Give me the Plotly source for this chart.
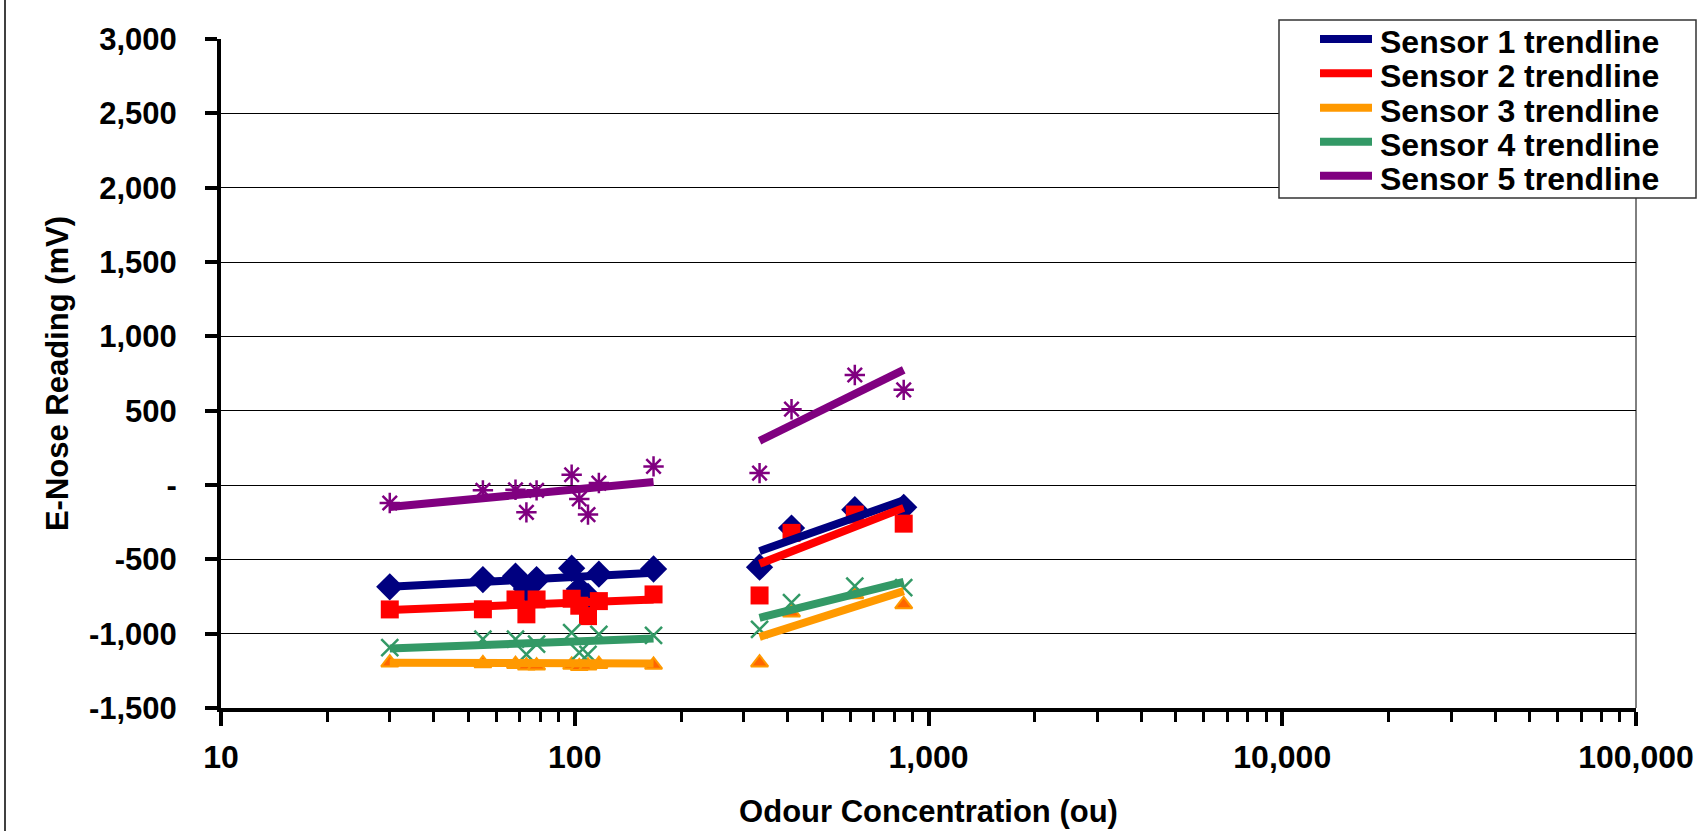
import plotly.graph_objects as go

# ---- data ----
odour = [30, 55, 68, 73, 78, 98, 103, 109, 117, 167, 333, 410, 619, 851]

sensor1 = [-685, -636, -613, -700, -636, -560, -700, -750, -600, -565, -553, -290, -166, -150]
sensor2 = [-837, -836, -770, -870, -770, -765, -812, -882, -781, -736, -743, -322, -199, -260]
sensor3 = [-1195, -1200, -1205, -1215, -1215, -1210, -1220, -1215, -1205, -1210, -1195, -859, -736, -803]
sensor4 = [-1094, -1037, -1037, -1139, -1071, -993, -1128, -1139, -1004, -1011, -971, -792, -680, -691]
sensor5 = [-121, -36, -32, -184, -36, 69, -94, -199, 13, 125, 80, 510, 740, 640]

# trendlines: two segments per sensor (low cluster, high cluster)
trend_x = [30, 167, None, 333, 851]
trend1 = [-685, -590, None, -445, -103]
trend2 = [-840, -770, None, -530, -154]
trend3 = [-1195, -1200, None, -1022, -714]
trend4 = [-1100, -1032, None, -893, -651]
trend5 = [-148, 20, None, 297, 774]

trend_names = ["Sensor 1 trendline", "Sensor 2 trendline", "Sensor 3 trendline",
               "Sensor 4 trendline", "Sensor 5 trendline"]

x_tickvals = [10, 100, 1000, 10000, 100000]
x_ticktext = ["10", "100", "1,000", "10,000", "100,000"]
y_tickvals = [3000, 2500, 2000, 1500, 1000, 500, 0, -500, -1000, -1500]
y_ticktext = ["3,000", "2,500", "2,000", "1,500", "1,000", "500", "-", "-500", "-1,000", "-1,500"]

# ---- styles / layout ----
FONT = "Liberation Sans, Arial, sans-serif"
colors = ["#000080", "#FF0000", "#FF9900", "#339966", "#800080"]
c1, c2, c3, c4, c5 = colors

W, H = 1707, 831
ML, MR, MT, MB = 221, 71, 39, 123
PW, PH = W - ML - MR, H - MT - MB


def xp(px):
    return (px - ML) / PW


def yp(py):
    return (H - MB - py) / PH


fig = go.Figure()

fig.add_trace(go.Scatter(x=odour, y=sensor1, mode="markers", showlegend=False, name="Sensor 1",
                         marker=dict(symbol="diamond", size=21, color=c1)))
fig.add_trace(go.Scatter(x=odour, y=sensor2, mode="markers", showlegend=False, name="Sensor 2",
                         marker=dict(symbol="square", size=18, color=c2)))
fig.add_trace(go.Scatter(x=odour, y=sensor3, mode="markers", showlegend=False, name="Sensor 3",
                         marker=dict(symbol="triangle-up", size=15, color="#FF6600",
                                     line=dict(color=c3, width=2))))
fig.add_trace(go.Scatter(x=odour, y=sensor4, mode="markers", showlegend=False, name="Sensor 4",
                         marker=dict(symbol="x-thin-open", size=17, color=c4,
                                     line=dict(color=c4, width=2.5))))
fig.add_trace(go.Scatter(x=odour, y=sensor5, mode="markers", showlegend=False, name="Sensor 5",
                         marker=dict(symbol="asterisk-open", size=17, color=c5,
                                     line=dict(color=c5, width=2.5))))

for name, ys, col in zip(trend_names, [trend1, trend2, trend3, trend4, trend5], colors):
    fig.add_trace(go.Scatter(x=trend_x, y=ys, mode="lines", name=name, connectgaps=False,
                             showlegend=False, line=dict(color=col, width=8)))

# manual legend box (to reproduce the tight row spacing of the original)
shapes = [
    dict(type="line", xref="paper", yref="paper", x0=1, x1=1, y0=0, y1=1,
         line=dict(color="black", width=1)),
    dict(type="line", xref="paper", yref="paper", x0=xp(5), x1=xp(5), y0=yp(H + 20), y1=yp(-20),
         line=dict(color="black", width=1.5)),
    dict(type="rect", xref="paper", yref="paper", x0=xp(1279), x1=xp(1696), y0=yp(198), y1=yp(20),
         fillcolor="white", line=dict(color="#333333", width=1.5), layer="above"),
]
annotations = []
row_y = [39, 73.3, 107.7, 141.7, 175.7]
for name, col, ry in zip(trend_names, colors, row_y):
    shapes.append(dict(type="line", xref="paper", yref="paper", x0=xp(1320), x1=xp(1372),
                       y0=yp(ry), y1=yp(ry), layer="above",
                       line=dict(color=col, width=8)))
    annotations.append(dict(xref="paper", yref="paper", x=xp(1378), y=yp(ry + 3),
                            xanchor="left", yanchor="middle", showarrow=False, text=name,
                            font=dict(family=FONT, size=32, color="black", weight="bold")))

fig.update_layout(
    width=W, height=H,
    margin=dict(l=ML, r=MR, t=MT, b=MB, autoexpand=False),
    paper_bgcolor="white", plot_bgcolor="white",
    font=dict(family=FONT, color="black", weight="bold"),
    showlegend=False,
    xaxis=dict(type="log", range=[1, 5], automargin=False,
               tickvals=x_tickvals, ticktext=x_ticktext,
               tickfont=dict(family=FONT, size=32, color="black", weight="bold"),
               ticks="outside", ticklen=14, tickwidth=4, tickcolor="black",
               ticklabelstandoff=4,
               minor=dict(ticks="outside", ticklen=10, tickwidth=3, tickcolor="black", dtick="D1", showgrid=False),
               showline=True, linewidth=4, linecolor="black",
               showgrid=False, zeroline=False,
               title=dict(text="Odour Concentration (ou)", standoff=27,
                          font=dict(family=FONT, size=31, color="black", weight="bold"))),
    yaxis=dict(range=[-1500, 3000], automargin=False,
               tickvals=y_tickvals, ticktext=y_ticktext,
               tickfont=dict(family=FONT, size=31, color="black", weight="bold"),
               ticks="outside", ticklen=12, tickwidth=4, tickcolor="black",
               ticklabelstandoff=22,
               showline=True, linewidth=4, linecolor="black",
               showgrid=True, gridcolor="black", gridwidth=1, zeroline=False,
               title=dict(text="E-Nose Reading (mV)", standoff=12,
                          font=dict(family=FONT, size=31, color="black", weight="bold"))),
    shapes=shapes,
    annotations=annotations,
)

fig.write_html("out.html", config={"displayModeBar": False},
               post_script="document.body.style.margin='0';document.body.style.overflow='hidden';")
